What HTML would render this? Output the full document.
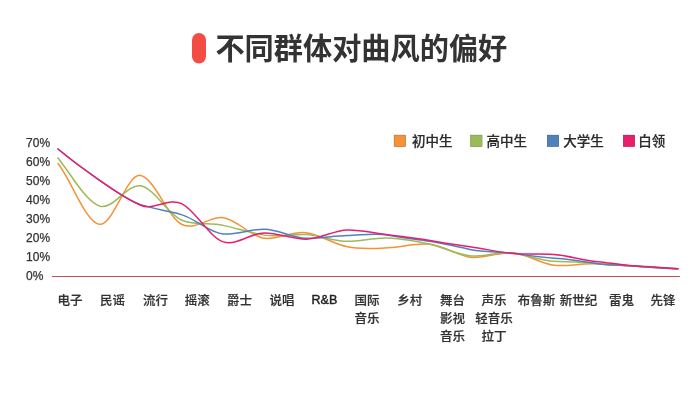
<!DOCTYPE html>
<html><head><meta charset="utf-8"><style>
html,body{margin:0;padding:0;background:#fff;}
body{width:700px;height:400px;overflow:hidden;position:relative;}
svg{position:absolute;left:0;top:0;}
text{font-family:"Liberation Sans", "Noto Sans CJK SC", sans-serif;}
</style></head><body>
<svg width="700" height="400" viewBox="0 0 700 400">
<rect x="192" y="33" width="14" height="30.5" rx="7" ry="7" fill="#f24c45"/>
<text x="215.4" y="58.8" font-size="29.2" font-weight="bold" fill="#333">不同群体对曲风的偏好</text>
<g font-size="12" fill="#333" stroke="#333" stroke-width="0.25"><text x="26.1" y="146.50">70%</text><text x="26.1" y="165.55">60%</text><text x="26.1" y="184.60">50%</text><text x="26.1" y="203.65">40%</text><text x="26.1" y="222.70">30%</text><text x="26.1" y="241.75">20%</text><text x="26.1" y="260.80">10%</text><text x="26.1" y="279.85">0%</text></g>
<rect x="52" y="276" width="628" height="1" fill="#c0504d"/>
<g fill="none" stroke-width="1.5" stroke-linecap="round" stroke-linejoin="round">
<path d="M58.00,163.52 C71.78,181.04 85.56,222.20 99.33,224.30 C113.11,226.40 126.89,172.79 140.67,175.46 C154.44,178.14 168.22,218.02 182.00,224.46 C195.78,230.90 209.56,215.96 223.33,217.73 C237.11,219.50 250.89,236.91 264.67,238.33 C278.44,239.75 292.22,230.75 306.00,232.64 C319.78,234.52 333.56,243.94 347.33,246.85 C361.11,249.75 374.89,248.53 388.67,247.73 C402.44,246.93 416.22,242.81 430.00,244.21 C443.78,245.62 457.56,255.88 471.33,257.40 C485.11,258.92 498.89,251.61 512.67,252.71 C526.44,253.80 540.22,263.78 554.00,265.32 C567.78,266.86 581.56,263.03 595.33,263.85 C609.11,264.66 622.89,265.36 636.67,266.26 C650.44,267.15 664.22,268.18 678.00,268.79" stroke="#f59237"/>
<path d="M58.00,157.91 C71.78,175.29 85.56,201.11 99.33,205.95 C113.11,210.79 126.89,183.26 140.67,185.79 C154.44,188.32 168.22,214.86 182.00,220.31 C195.78,225.77 209.56,222.27 223.33,225.36 C237.11,228.45 250.89,232.85 264.67,235.13 C278.44,237.42 292.22,233.83 306.00,234.57 C319.78,235.30 333.56,241.33 347.33,241.33 C361.11,241.32 374.89,237.30 388.67,238.03 C402.44,238.76 416.22,241.22 430.00,244.16 C443.78,247.10 457.56,255.29 471.33,255.96 C485.11,256.62 498.89,251.38 512.67,253.10 C526.44,254.82 540.22,260.72 554.00,261.36 C567.78,262.00 581.56,262.08 595.33,263.54 C609.11,265.01 622.89,265.22 636.67,266.24 C650.44,267.26 664.22,268.09 678.00,268.80" stroke="#9bbb59"/>
<path d="M58.00,149.04 C71.78,160.53 85.56,170.76 99.33,180.12 C113.11,189.47 126.89,200.01 140.67,204.66 C154.44,209.30 168.22,210.92 182.00,214.86 C195.78,218.81 209.56,233.21 223.33,233.98 C237.11,234.76 250.89,229.00 264.67,229.27 C278.44,229.53 292.22,238.01 306.00,238.31 C319.78,238.60 333.56,235.72 347.33,235.48 C361.11,235.23 374.89,232.55 388.67,235.22 C402.44,237.88 416.22,239.07 430.00,241.28 C443.78,243.50 457.56,246.85 471.33,249.71 C485.11,252.57 498.89,251.33 512.67,253.29 C526.44,255.25 540.22,257.46 554.00,258.14 C567.78,258.82 581.56,260.92 595.33,263.28 C609.11,265.65 622.89,264.85 636.67,266.20 C650.44,267.56 664.22,267.86 678.00,268.82" stroke="#4f81bd"/>
<path d="M58.00,149.03 C71.78,160.70 85.56,170.43 99.33,180.19 C113.11,189.95 126.89,199.42 140.67,205.26 C154.44,211.10 168.22,197.00 182.00,203.81 C195.78,210.61 209.56,237.61 223.33,241.85 C237.11,246.08 250.89,232.63 264.67,232.92 C278.44,233.22 292.22,239.05 306.00,239.13 C319.78,239.21 333.56,230.26 347.33,229.99 C361.11,229.72 374.89,233.32 388.67,234.85 C402.44,236.37 416.22,237.88 430.00,240.44 C443.78,243.00 457.56,244.92 471.33,246.89 C485.11,248.85 498.89,252.32 512.67,253.40 C526.44,254.49 540.22,253.51 554.00,254.40 C567.78,255.29 581.56,260.29 595.33,261.38 C609.11,262.46 622.89,265.39 636.67,266.02 C650.44,266.65 664.22,268.19 678.00,268.75" stroke="#e91e6c"/>
</g>
<g font-size="13.5" font-weight="500" fill="#2b2b2b" stroke="#2b2b2b" stroke-width="0.2"><rect x="394" y="135" width="11.8" height="11.8" fill="#f59237"/><text x="411.9" y="145.8">初中生</text><rect x="470.3" y="135" width="11.8" height="11.8" fill="#9bbb59"/><text x="486.59999999999997" y="145.8">高中生</text><rect x="547.1" y="135" width="11.8" height="11.8" fill="#4f81bd"/><text x="563.1999999999999" y="145.8">大学生</text><rect x="623.1" y="135" width="11.8" height="11.8" fill="#e91e6c"/><text x="638.1999999999999" y="145.8">白领</text></g>
<g font-size="12.5" font-weight="500" fill="#333" stroke="#333" stroke-width="0.2" text-anchor="middle"><text x="70.00" y="304.50">电子</text><text x="112.50" y="304.50">民谣</text><text x="155.60" y="304.50">流行</text><text x="197.30" y="304.50">摇滚</text><text x="239.40" y="304.50">爵士</text><text x="282.00" y="304.50">说唱</text><text x="324.40" y="304.50"><tspan stroke="#222" fill="#222" stroke-width="0.45" dy="-0.5">R&amp;B</tspan></text><text x="366.90" y="304.50">国际</text><text x="366.90" y="322.90">音乐</text><text x="409.70" y="304.50">乡村</text><text x="452.40" y="304.50">舞台</text><text x="452.40" y="322.90">影视</text><text x="452.40" y="341.30">音乐</text><text x="494.10" y="304.50">声乐</text><text x="494.10" y="322.90">轻音乐</text><text x="494.10" y="341.30">拉丁</text><text x="536.60" y="304.50">布鲁斯</text><text x="578.50" y="304.50">新世纪</text><text x="621.60" y="304.50">雷鬼</text><text x="663.10" y="304.50">先锋</text></g>
</svg>
</body></html>
